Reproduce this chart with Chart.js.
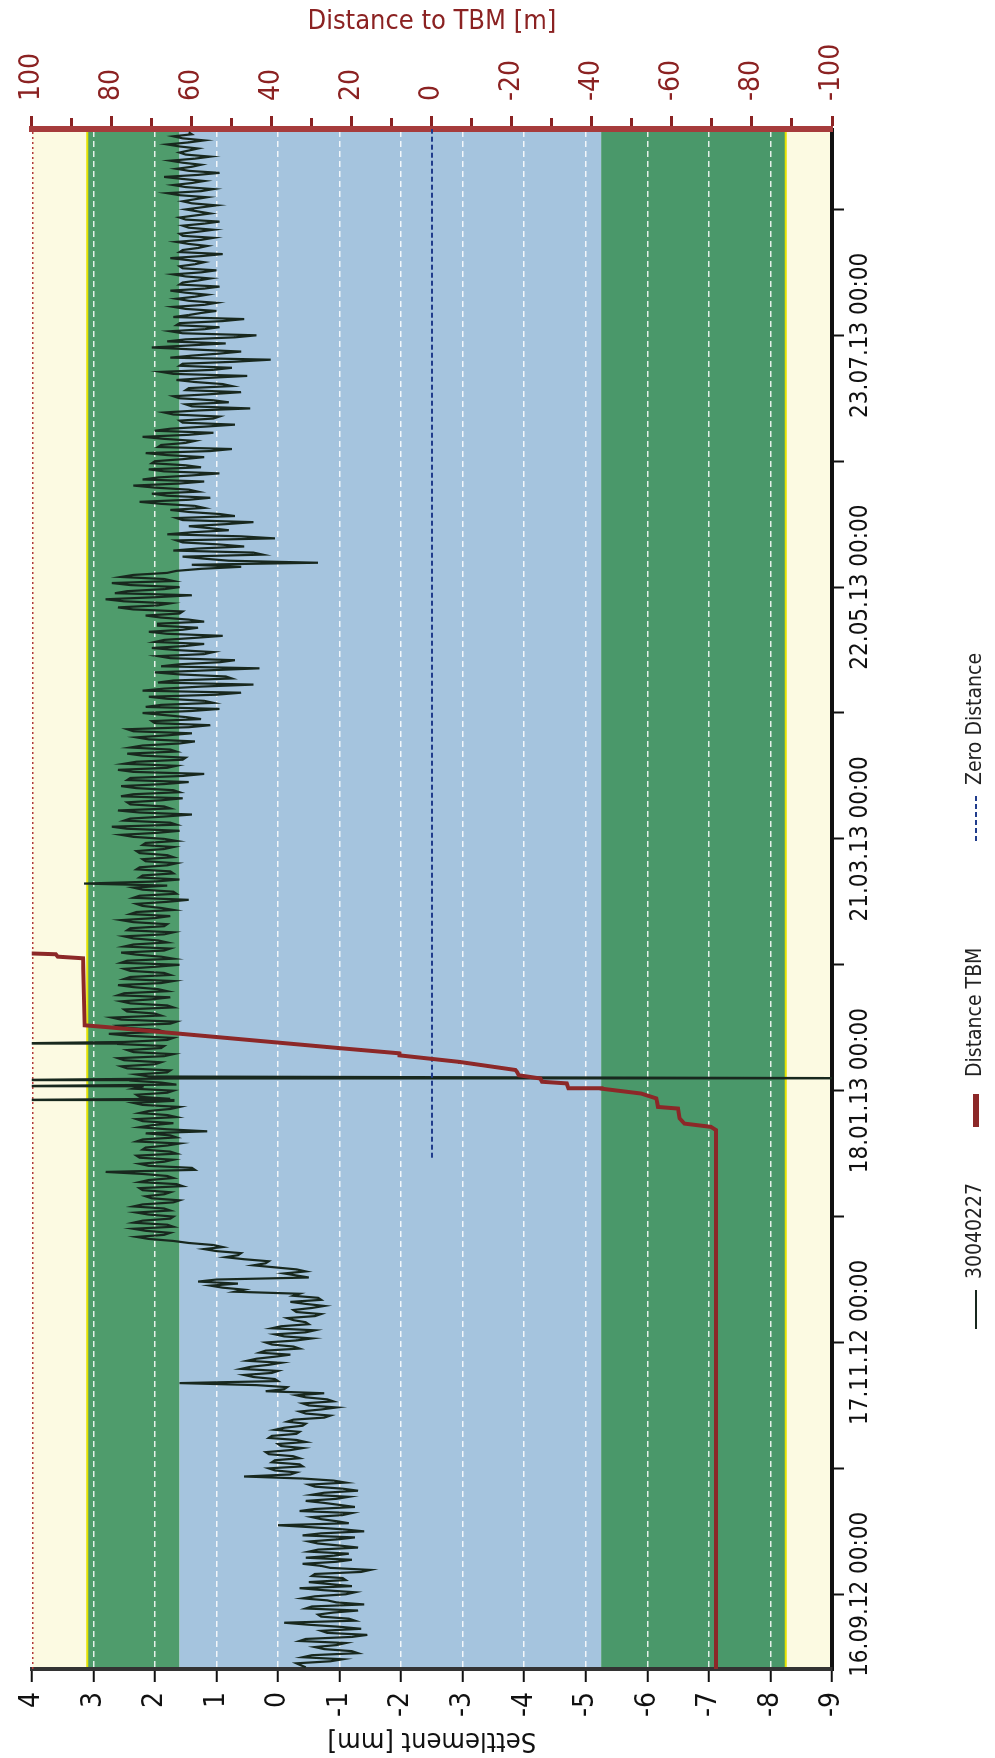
<!DOCTYPE html>
<html>
<head>
<meta charset="utf-8">
<script src="https://cdn.jsdelivr.net/npm/chart.js@4/dist/chart.umd.min.js"></script>
<style>
  html, body { margin: 0; padding: 0; background: #fff; }
  body { width: 995px; height: 1758px; overflow: hidden; position: relative; }
  /* the chart is drawn landscape, then turned a quarter to the left */
  #wrap {
    position: absolute; left: 0; top: 0;
    width: 1758px; height: 995px;
    transform-origin: 0 0;
    transform: translate(0, 1758px) rotate(-90deg);
  }
</style>
</head>
<body>
<div id="wrap"><canvas id="chart" width="1758" height="995"></canvas></div>
<script>
// time axis: days after 16.09.12 00:00
const dayMin = -18.4;
const dayMax = 360.8;
const tickDays = [0, 31, 62, 93, 124, 155, 186, 217, 248, 279, 310, 341];
const labelDays = [0, 62, 124, 186, 248, 310];
const dateLabels = ['16.09.12 00:00', '17.11.12 00:00', '18.01.13 00:00',
                    '21.03.13 00:00', '22.05.13 00:00', '23.07.13 00:00'];

// settlement of point 30040227 [mm], midnight readings from day -17
const firstDay = -17;
const settlement = [
  -0.30, -1.05, -0.55, -1.20, -0.60, -1.10, -0.45, -1.45, -0.70, -1.00,
  -0.10, -1.15, -0.65, -1.30, -0.55, -0.95, -0.40, -1.10, -0.75, -1.20,
  -0.50, -1.05, -0.60, -1.50, -0.70, -0.95, -0.45, -1.15, -0.65, -1.00,
  -0.50, -1.25, -0.70, -1.05, 0.00, -0.95, -0.55, -1.20, -0.60, -1.00,
  -0.45, -1.15, -0.75, -1.05, -0.50, -0.90, 0.55, -0.30, 0.15, -0.35,
  0.05, -0.25, 0.20, -0.40, 0.00, -0.30, 0.10, -0.35, -0.10, -0.45,
  -0.25, -0.85, -0.35, -0.95, -0.40, -0.80, -0.30, 0.20, -0.15, 1.60,
  0.05, 0.55, 0.00, 0.45, -0.05, 0.35, -0.20, 0.20, -0.25, 0.20,
  -0.55, 0.05, -0.60, -0.05, -0.45, -0.15, -0.70, -0.25, -0.75, -0.20,
  -0.65, -0.35, 0.55, 1.10, 1.30, -0.50, -0.10, -0.30, 0.40, 0.15,
  0.85, 0.60, 1.20, 1.05, 1.70, 2.30, 1.75, 2.35, 1.80, 2.20,
  1.70, 2.30, 1.85, 2.20, 1.60, 2.15, 1.75, 2.25, 1.65, 2.10,
  1.80, 2.80, 1.40, 2.25, 1.70, 2.30, 1.75, 2.15, 1.60, 2.20,
  1.75, 1.15, 2.25, 1.70, 2.30, 1.80, 2.10, 1.60, 2.35, 1.75,
  2.30, 1.70, 2.20, 1.90, 1.70, 2.30, 1.75, 2.55, 1.90, 2.60,
  1.70, 2.45, 1.85, 2.50, 1.70, 2.75, 1.95, 2.60, 1.65, 2.70,
  2.00, 2.50, 1.80, 2.55, 1.75, 2.50, 1.95, 2.60, 1.70, 2.40,
  1.85, 2.50, 1.60, 2.45, 1.90, 2.55, 1.75, 2.35, 1.95, 2.50,
  1.70, 2.40, 1.80, 2.55, 1.75, 2.30, 1.90, 2.30, 1.45, 2.25,
  1.70, 2.35, 3.15, 1.60, 2.20, 1.75, 2.25, 1.65, 2.20, 1.80,
  2.30, 1.70, 2.15, 1.85, 2.55, 1.60, 2.70, 1.75, 2.40, 1.40,
  2.60, 1.85, 2.45, 1.55, 2.35, 1.70, 2.55, 1.45, 2.40, 1.20,
  2.60, 1.65, 2.30, 1.50, 2.45, 1.75, 2.20, 1.35, 2.30, 1.40,
  2.45, 1.10, 2.05, 1.50, 2.20, 0.95, 1.90, 1.20, 2.10, 0.60,
  1.85, 0.40, 1.70, 0.85, 2.00, 0.30, 1.60, 0.70, 1.95, 1.05,
  2.05, 1.20, 1.85, 0.90, 2.10, 1.30, 1.95, 1.45, 2.15, 1.55,
  2.60, 1.75, 2.80, 1.40, 2.45, 1.60, 2.70, 1.85, 2.35, 1.65,
  0.60, -0.65, 1.20, 0.25, 1.70, 0.55, 1.55, 0.05, 1.80, 0.80,
  1.45, 0.40, 1.65, 0.95, 1.75, 1.35, 2.25, 1.10, 2.05, 1.45,
  2.35, 1.20, 1.95, 0.95, 2.10, 1.50, 2.00, 1.20, 2.15, 0.75,
  1.90, 1.35, 2.20, 1.05, 1.75, 0.70, 1.60, 0.95, 1.85, 0.45,
  1.50, 1.05, 1.70, 0.60, 1.45, 0.90, 1.65, 0.50, 1.90, 0.75,
  1.55, 0.12, 1.40, 0.60, 2.05, 0.85, 1.50, 0.35, 1.75, 0.95,
  1.60, 0.55, 1.45, 1.00, 1.70, 1.00, 1.65, 1.15, 1.75, 0.95,
  1.55, 1.10, 1.70, 1.00, 1.60, 1.20, 1.75, 0.90, 1.55, 1.15,
  1.65, 1.05, 1.60, 1.05, 1.55, 0.95, 1.60, 1.10, 1.50, 1.00,
  1.55, 1.15, 1.80, 1.05, 1.70, 1.20, 1.85, 0.95, 1.65, 1.25,
  1.75, 1.10, 1.60, 1.30, 1.80, 1.20, 1.70, 1.45
];
// noon readings of the same point, from day -16.5
const settlementNoon = [
  -0.85, -0.40, -1.30, -0.75, -0.95, -0.35, -1.20, -0.80, -1.35, -0.50,
  -1.25, -0.70, -0.90, -0.45, -1.40, -0.80, -0.60, -1.25, -0.35, -0.85,
  -1.10, -0.55, -1.35, -0.85, -0.40, -1.20, -0.90, -0.50, -1.30, -0.65,
  -0.95, -0.40, -1.40, -0.55, -1.15, -0.70, -1.05, -0.35, -1.25, -0.75,
  -0.95, -0.55, -1.30, -0.60, -1.10, -0.40, -0.20, 0.05, -0.40, 0.10,
  -0.35, 0.15, -0.20, -0.05, -0.45, 0.15, -0.30, 0.05, -0.40, -0.15,
  -0.75, -0.45, -0.70, -0.50, -0.90, -0.45, -0.75, -0.10, 0.35, 0.00,
  0.40, 0.10, 0.60, 0.15, 0.50, 0.05, 0.30, -0.35, 0.10, -0.30,
  -0.10, -0.45, 0.10, -0.50, -0.25, -0.60, -0.30, -0.55, -0.45, -0.70,
  -0.25, 0.70, 0.90, 0.65, 1.00, -0.30, -0.45, 0.05, 0.20, 0.55,
  0.65, 1.00, 0.90, 1.45, 2.10, 1.85, 2.15, 1.70, 2.35, 1.75,
  2.10, 1.75, 2.35, 1.70, 2.05, 1.85, 2.20, 1.55, 2.25, 1.70,
  2.20, 1.35, 2.10, 1.85, 2.25, 1.65, 2.20, 1.80, 2.30, 1.65,
  2.15, 1.80, 2.05, 2.20, 1.65, 2.25, 1.75, 2.20, 1.70, 2.25,
  1.80, 2.35, 1.65, 2.40, 2.10, 1.80, 2.45, 2.00, 2.50, 1.85,
  2.35, 1.90, 2.60, 1.80, 2.40, 1.85, 2.50, 1.75, 2.55, 1.90,
  2.45, 1.70, 2.40, 2.05, 2.60, 1.80, 2.35, 1.90, 2.50, 1.75,
  2.40, 2.00, 2.55, 1.70, 2.30, 1.85, 2.50, 1.80, 2.35, 1.85,
  2.45, 1.85, 2.35, 2.00, 2.40, 1.70, 2.20, 1.80, 2.35, 1.65,
  2.20, 1.80, 2.00, 2.25, 1.70, 2.30, 1.80, 2.15, 1.70, 2.25,
  1.85, 2.20, 1.65, 2.35, 1.95, 2.45, 1.65, 2.50, 1.85, 2.25,
  1.75, 2.40, 1.90, 2.55, 1.60, 2.30, 1.85, 2.45, 1.55, 2.35,
  1.80, 2.50, 1.55, 2.20, 1.65, 2.40, 1.60, 2.10, 1.80, 2.35,
  1.45, 2.00, 1.25, 1.85, 1.40, 2.15, 1.05, 1.80, 1.00, 2.20,
  1.25, 1.95, 0.75, 1.60, 1.15, 1.90, 0.95, 1.75, 1.20, 1.65,
  1.50, 2.00, 1.35, 1.80, 1.55, 1.95, 1.20, 1.90, 1.60, 2.35,
  1.95, 2.50, 2.00, 2.65, 1.85, 2.40, 1.70, 2.55, 1.80, 1.25,
  1.40, 0.80, 1.55, 0.40, 1.30, 0.95, 1.65, 0.60, 1.40, 1.10,
  0.85, 1.55, 0.70, 1.45, 1.20, 1.90, 1.45, 1.80, 1.30, 2.00,
  1.60, 2.20, 1.40, 1.85, 1.25, 2.05, 1.55, 1.80, 1.10, 1.95,
  1.50, 1.85, 1.45, 2.00, 1.20, 1.55, 1.05, 1.70, 1.30, 1.40,
  0.80, 1.60, 1.10, 1.50, 0.75, 1.35, 1.15, 1.70, 1.05, 1.60,
  0.70, 1.75, 0.95, 1.35, 1.45, 1.80, 0.70, 1.55, 1.20, 1.65,
  0.90, 1.70, 1.25, 1.50, 1.20, 1.45, 1.35, 1.50, 1.20, 1.60,
  1.30, 1.50, 1.25, 1.55, 1.35, 1.45, 1.25, 1.60, 1.30, 1.45,
  1.25, 1.55, 1.30, 1.45, 1.20, 1.50, 1.35, 1.30, 1.25, 1.40,
  1.35, 1.60, 1.25, 1.50, 1.40, 1.55, 1.30, 1.45, 1.40, 1.55,
  1.35, 1.50, 1.45, 1.60, 1.45, 1.55, 1.40
];
// single off-scale readings between the regular ones [day, mm]
const settlementSpikes = [
  [-18.0, -0.45], [121.7, 4.6], [125.1, 4.6], [126.6, 4.6],
  [127.05, -10.5], [135.6, 4.6]
];

// distance of the TBM to the point [m]
const tbmDays = [dayMin, 114.3, 115.1, 115.9, 117.2, 119.6, 120.0, 122.1, 123.3, 124.5,
                 124.6, 125.8, 126.2, 127.0, 127.8, 128.6, 129.1, 131.1, 132.7, 133.2,
                 134.4, 139.7, 140.1, 156.6, 157.0, 157.6, 157.8, 158.0];
const tbmDist = [-71, -71, -69.7, -63.1, -61.9, -61.5, -56.5, -56.1, -52.3, -42.4,
                 -34.1, -33.7, -27.5, -27.1, -21.7, -21.3, -20.9, -6.8, 8.1, 8.1,
                 22.2, 81.8, 86.8, 87.2, 93.5, 94.0, 100.4, 110];

// zero distance marker
const zeroDays = [107.5, dayMax];
const zeroDist = [0, 0];

// settlement limits of the coloured zones [mm], top to bottom
const zoneEdges = [4, 3.1, 1.6, -5.25, -8.25, -9];
const zoneColors = ['#fcfae2', '#4f9c6c', '#a5c4de', '#4a986a', '#fcfae2'];

const FONT = "'Liberation Sans Narrow', 'Arial Narrow', 'DejaVu Sans Condensed', 'Liberation Sans', sans-serif";
Chart.defaults.font.family = FONT;
Chart.defaults.color = '#111';

// build the point lists
const settlementPoints = settlement.map((v, i) => ({ x: firstDay + i, y: v }))
  .concat(settlementNoon.map((v, i) => ({ x: firstDay + i + 0.5, y: v })))
  .concat(settlementSpikes.map(p => ({ x: p[0], y: p[1] })))
  .sort((a, b) => a.x - b.x);
const tbmPoints = tbmDays.map((d, i) => ({ x: d, y: tbmDist[i] }));
const zeroPoints = zeroDays.map((d, i) => ({ x: d, y: zeroDist[i] }));

// coloured zones behind the grid
const zonesPlugin = {
    id: 'zones',
    beforeDraw(chart) {
        const { ctx, chartArea: a, scales: { y } } = chart;
        ctx.save();
        for (let i = 0; i < zoneColors.length; i++) {
            const p1 = y.getPixelForValue(zoneEdges[i]);
            const p2 = y.getPixelForValue(zoneEdges[i + 1]);
            ctx.fillStyle = zoneColors[i];
            ctx.fillRect(a.left, p1, a.right - a.left, p2 - p1);
        }
        ctx.strokeStyle = '#e6e200';
        ctx.lineWidth = 2;
        [zoneEdges[1], zoneEdges[4]].forEach(v => {
            const p = y.getPixelForValue(v);
            ctx.beginPath();
            ctx.moveTo(a.left, p);
            ctx.lineTo(a.right, p);
            ctx.stroke();
        });
        ctx.restore();
    },
    beforeDatasetsDraw(chart) {
        // dotted red frame line at the 100 m side
        const { ctx, chartArea: a } = chart;
        ctx.save();
        ctx.strokeStyle = '#b23a3a';
        ctx.lineWidth = 1.5;
        ctx.setLineDash([2, 3]);
        ctx.beginPath();
        ctx.moveTo(a.left, a.top + 1);
        ctx.lineTo(a.right, a.top + 1);
        ctx.stroke();
        ctx.restore();
    }
};

// legend under the date axis
const legendSlots = [[429, 468, 479], [631, 664, 681], [917, 962, 973]];
const legendPlugin = {
    id: 'sideLegend',
    afterDraw(chart) {
        const ctx = chart.ctx;
        const y = 976;
        chart.data.datasets.forEach((ds, i) => {
            const [x1, x2, tx] = legendSlots[i];
            ctx.save();
            ctx.strokeStyle = ds.borderColor;
            ctx.lineWidth = ds.legendWidth;
            ctx.setLineDash(ds.borderDash || []);
            ctx.beginPath();
            ctx.moveTo(x1, y);
            ctx.lineTo(x2, y);
            ctx.stroke();
            ctx.setLineDash([]);
            ctx.fillStyle = '#222';
            ctx.font = '21px ' + FONT;
            ctx.textBaseline = 'middle';
            ctx.fillText(ds.label, tx, y);
            ctx.restore();
        });
    }
};

const ctx = document.getElementById('chart').getContext('2d');
const chart = new Chart(ctx, {
    type: 'line',
    data: {
        datasets: [{
            label: '30040227',
            data: settlementPoints,
            yAxisID: 'y',
            borderColor: '#18281e',
            borderWidth: 2.2,
            legendWidth: 2,
            pointRadius: 0,
            order: 3
        }, {
            label: 'Distance TBM',
            data: tbmPoints,
            yAxisID: 'y2',
            borderColor: '#8c2828',
            borderWidth: 4,
            legendWidth: 6,
            pointRadius: 0,
            order: 1
        }, {
            label: 'Zero Distance',
            data: zeroPoints,
            yAxisID: 'y2',
            borderColor: '#203c8c',
            borderWidth: 2,
            borderDash: [5, 3],
            legendWidth: 2,
            pointRadius: 0,
            order: 2
        }]
    },
    options: {
        responsive: false,
        animation: false,
        layout: { padding: { top: 27, left: 0, right: 0, bottom: 0 } },
        plugins: {
            legend: { display: false },
            tooltip: { enabled: false }
        },
        scales: {
            x: {
                type: 'linear',
                position: 'bottom',
                min: dayMin,
                max: dayMax,
                afterBuildTicks: scale => {
                    scale.ticks = tickDays.map(v => ({ value: v }));
                },
                afterFit: scale => { scale.height = 163; },
                ticks: {
                    autoSkip: false,
                    maxRotation: 0,
                    minRotation: 0,
                    padding: 2,
                    font: { size: 24 },
                    color: '#111',
                    callback: v => {
                        const i = labelDays.indexOf(v);
                        return i >= 0 ? dateLabels[i] : '';
                    }
                },
                grid: {
                    drawOnChartArea: false,
                    tickLength: 12,
                    tickWidth: 2,
                    tickColor: '#111'
                },
                border: { color: '#111', width: 4 }
            },
            y: {
                type: 'linear',
                position: 'left',
                min: -9,
                max: 4,
                afterFit: scale => { scale.width = 89; },
                ticks: {
                    stepSize: 0.5,
                    padding: 10,
                    font: { size: 28 },
                    color: '#111',
                    callback: v => Number.isInteger(v) ? String(v) : ''
                },
                grid: {
                    color: c => Number.isInteger(c.tick.value) ? 'rgba(255,255,255,0.85)' : 'rgba(0,0,0,0)',
                    lineWidth: 1.5,
                    tickLength: 13,
                    tickWidth: 2,
                    tickColor: '#111'
                },
                border: { color: '#333', width: 4, dash: [6, 4] },
                title: {
                    display: true,
                    text: 'Settlement [mm]',
                    font: { size: 27 },
                    color: '#111',
                    padding: { top: 2, bottom: 0 }
                }
            },
            y2: {
                type: 'linear',
                position: 'right',
                min: -100,
                max: 100,
                afterFit: scale => { scale.width = 129; },
                ticks: {
                    stepSize: 10,
                    padding: 15,
                    font: { size: 28 },
                    color: '#8b2222',
                    callback: v => v % 20 === 0 ? String(v) : ''
                },
                grid: {
                    drawOnChartArea: false,
                    tickLength: 13,
                    tickWidth: 3,
                    tickColor: '#8b2222',
                    tickBorderDash: c => c.tick && c.tick.value % 20 !== 0 ? [8, 100] : []
                },
                border: { color: '#a63c3c', width: 6 },
                title: {
                    display: true,
                    text: 'Distance to TBM [m]',
                    font: { size: 27 },
                    color: '#8b2222',
                    padding: { top: 6, bottom: 0 }
                }
            }
        }
    },
    plugins: [zonesPlugin, legendPlugin]
});
</script>
</body>
</html>
